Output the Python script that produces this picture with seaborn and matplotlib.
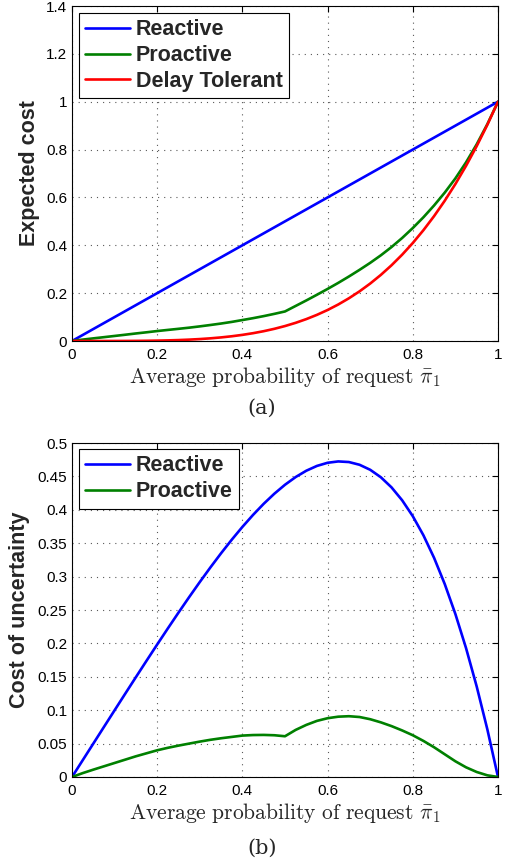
import matplotlib
matplotlib.use('Agg')
import matplotlib.pyplot as plt
import seaborn as sns
import pandas as pd

# ---- data ----
x_prob = [0, 0.025, 0.05, 0.075, 0.1, 0.125, 0.15, 0.175, 0.2, 0.225, 0.25, 0.275,
          0.3, 0.325, 0.35, 0.375, 0.4, 0.425, 0.45, 0.475, 0.5, 0.525, 0.55, 0.575,
          0.6, 0.625, 0.65, 0.675, 0.7, 0.725, 0.75, 0.775, 0.8, 0.825, 0.85, 0.875,
          0.9, 0.925, 0.95, 0.975, 1.0]

reactive_cost = [0, 0.025, 0.05, 0.075, 0.1, 0.125, 0.15, 0.175, 0.2, 0.225, 0.25, 0.275,
                 0.3, 0.325, 0.35, 0.375, 0.4, 0.425, 0.45, 0.475, 0.5, 0.525, 0.55, 0.575,
                 0.6, 0.625, 0.65, 0.675, 0.7, 0.725, 0.75, 0.775, 0.8, 0.825, 0.85, 0.875,
                 0.9, 0.925, 0.95, 0.975, 1.0]
proactive_cost = [0, 0.0058, 0.011, 0.0160, 0.0211, 0.0262, 0.0315, 0.0364, 0.0416,
                  0.0463, 0.0509, 0.0557, 0.0611, 0.0669, 0.0730, 0.0798, 0.0876, 0.0954,
                  0.1040, 0.1134, 0.1235, 0.1465, 0.1695, 0.1933, 0.2176, 0.2429, 0.2695,
                  0.2974, 0.3266, 0.3581, 0.3926, 0.4305, 0.4721, 0.5172, 0.5665, 0.6202,
                  0.6796, 0.7466, 0.8220, 0.9062, 1.0]
delay_tolerant_cost = [0, 0.0, 0.0, 0.00003, 0.0001, 0.00024, 0.0005, 0.00094, 0.0016,
                       0.00256, 0.0039, 0.00572, 0.0081, 0.01116, 0.0150, 0.01978, 0.0256,
                       0.03263, 0.0410, 0.05091, 0.0625, 0.07597, 0.0915, 0.10931, 0.1296,
                       0.15259, 0.1785, 0.20759, 0.2401, 0.27628, 0.3164, 0.36075, 0.4096,
                       0.46324, 0.5220, 0.58618, 0.6561, 0.73209, 0.81451, 0.90369, 1.0]

reactive_uncertainty = [0, 0.025, 0.05, 0.07497, 0.0999, 0.12476, 0.1495, 0.17406, 0.1984,
                        0.22244, 0.2461, 0.26928, 0.2919, 0.31384, 0.335, 0.35522, 0.3744,
                        0.39237, 0.409, 0.42409, 0.4375, 0.44903, 0.4585, 0.46569, 0.4704,
                        0.47241, 0.4715, 0.46741, 0.4599, 0.44872, 0.4336, 0.41425, 0.3904,
                        0.36176, 0.328, 0.28882, 0.2439, 0.19291, 0.13549, 0.07131, 0.0]
proactive_uncertainty = [0, 0.0058, 0.011, 0.016, 0.021, 0.026, 0.031, 0.0355, 0.040,
                         0.0437, 0.047, 0.050, 0.053, 0.0557, 0.058, 0.060, 0.062, 0.0628,
                         0.063, 0.0625, 0.061, 0.0705, 0.078, 0.084, 0.088, 0.0903, 0.091,
                         0.0898, 0.0865, 0.0818, 0.0762, 0.0697, 0.0625, 0.054, 0.0445,
                         0.034, 0.0235, 0.0145, 0.0075, 0.0025, 0.0]

x_ticks = [0, 0.2, 0.4, 0.6, 0.8, 1.0]
x_tick_labels = ['0', '0.2', '0.4', '0.6', '0.8', '1']
top_y_ticks = [0, 0.2, 0.4, 0.6, 0.8, 1.0, 1.2, 1.4]
top_y_tick_labels = ['0', '0.2', '0.4', '0.6', '0.8', '1', '1.2', '1.4']
bottom_y_ticks = [0, 0.05, 0.1, 0.15, 0.2, 0.25, 0.3, 0.35, 0.4, 0.45, 0.5]
bottom_y_tick_labels = ['0', '0.05', '0.1', '0.15', '0.2', '0.25', '0.3', '0.35',
                        '0.4', '0.45', '0.5']

top_df = pd.DataFrame({'x': x_prob, 'Reactive': reactive_cost,
                       'Proactive': proactive_cost, 'Delay Tolerant': delay_tolerant_cost})
bottom_df = pd.DataFrame({'x': x_prob, 'Reactive': reactive_uncertainty,
                          'Proactive': proactive_uncertainty})

colors = {'Reactive': '#0000ff', 'Proactive': '#008000', 'Delay Tolerant': '#ff0000'}

sns.set_style('white')
plt.rcParams['font.family'] = ['Liberation Sans', 'DejaVu Sans']
plt.rcParams['mathtext.fontset'] = 'cm'

W, H = 506, 861
fig = plt.figure(figsize=(W / 100, H / 100), dpi=100)
ax1 = fig.add_axes([72 / W, 1 - 341 / H, 426 / W, 335 / H])
ax2 = fig.add_axes([72 / W, 1 - 777 / H, 426 / W, 334 / H])

LW = 1.9


def style_axes(ax, yticks, ylabels, ylim):
    ax.set_xlim(0, 1)
    ax.set_ylim(*ylim)
    ax.set_xticks(x_ticks)
    ax.set_xticklabels(x_tick_labels)
    ax.set_yticks(yticks)
    ax.set_yticklabels(ylabels)
    ax.tick_params(direction='in', top=True, right=True, length=4, width=0.8,
                   labelsize=11, colors='black')
    ax.tick_params(axis='x', pad=5)
    ax.grid(True, linestyle=(0, (1, 4.5)), color='0.35', linewidth=0.8)
    for s in ax.spines.values():
        s.set_color('black')
        s.set_linewidth(0.8)
        s.set_visible(True)
    ax.set_xlabel(r'$\mathrm{Average\ probability\ of\ request\ }\bar{\pi}_1$',
                  fontsize=15.5, labelpad=2)


for name in ['Reactive', 'Proactive', 'Delay Tolerant']:
    sns.lineplot(data=top_df, x='x', y=name, ax=ax1, color=colors[name], lw=LW,
                 label=name, estimator=None)
for name in ['Reactive', 'Proactive']:
    sns.lineplot(data=bottom_df, x='x', y=name, ax=ax2, color=colors[name], lw=LW,
                 label=name, estimator=None)

style_axes(ax1, top_y_ticks, top_y_tick_labels, (0, 1.4))
style_axes(ax2, bottom_y_ticks, bottom_y_tick_labels, (0, 0.5))

ax1.set_ylabel('Expected cost', fontsize=15.5, fontweight='bold')
ax1.yaxis.set_label_coords(-0.074, 0.5)
ax2.set_ylabel('Cost of uncertainty', fontsize=15.5, fontweight='bold')
ax2.yaxis.set_label_coords(-0.099, 0.5)

for ax, top_px, ax_top, h in [(ax1, 13, 6, 335), (ax2, 449, 443, 334)]:
    leg = ax.legend(loc='upper left', bbox_to_anchor=(7 / 426, 1 - (top_px - ax_top) / h),
                    borderaxespad=0, frameon=True, fancybox=False, framealpha=1,
                    edgecolor='black', prop={'weight': 'bold', 'size': 15.5},
                    handlelength=2.05, handletextpad=0.3, labelspacing=0.22,
                    borderpad=0.3)
    leg.get_frame().set_linewidth(0.8)

fig.text(262 / W, 1 - 408 / H, '(a)', ha='center', va='center', fontsize=15,
         family='serif')
fig.text(262 / W, 1 - 848 / H, '(b)', ha='center', va='center', fontsize=15,
         family='serif')

fig.savefig('out.png', dpi=100)
